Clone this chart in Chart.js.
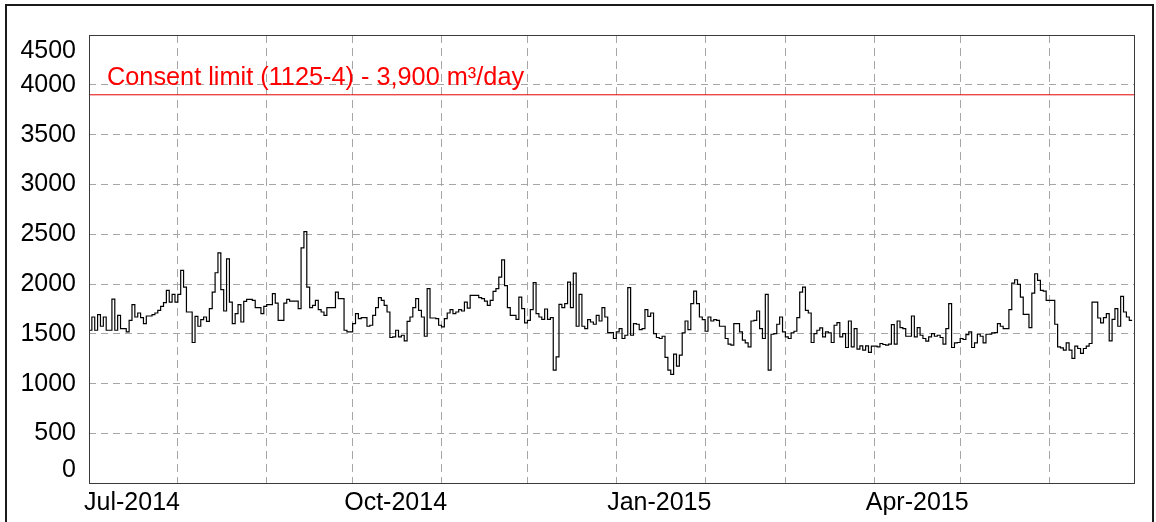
<!DOCTYPE html>
<html>
<head>
<meta charset="utf-8">
<script src="https://cdn.jsdelivr.net/npm/chart.js@4/dist/chart.umd.min.js"></script>
<style>
  html, body { margin: 0; padding: 0; background: #ffffff; overflow: hidden; width: 1156px; height: 522px; }
  #frame { position: absolute; left: 5px; top: 4px; width: 1145px; height: 600px; border: 2px solid #1a1a1a; z-index: 0; }
  #wrap { position: absolute; left: 0; top: 0; width: 1156px; height: 522px; z-index: 1; }
</style>
</head>
<body>
<div id="frame"></div>
<div id="wrap"><canvas id="c" width="1156" height="522"></canvas></div>
<script>
// ---------------- DATA ----------------
const seriesStart = '2014-07-01';
const axisEnd = '2015-07-01';
// daily flow (m3/day), one value per day from 1 Jul 2014
const flowValues = [
  1537,1670,1537,1694,1577,1670,1537,1537,1850,1537,
  1687,1554,1554,1520,1637,1794,1670,1710,1664,1604,
  1680,1680,1694,1710,1737,1777,1814,1937,1820,1897,
  1820,1897,2137,1970,1720,1720,1414,1677,1577,1644,
  1670,1627,1754,1920,2114,2314,1944,1730,2254,1820,
  1604,1704,1794,1620,1827,1847,1847,1837,1764,1764,
  1704,1777,1794,1794,1904,1810,1637,1637,1810,1847,
  1830,1830,1830,1754,2364,2527,1970,1764,1787,1837,
  1744,1720,1687,1764,1764,1764,1920,1854,1854,1537,
  1520,1520,1604,1704,1654,1664,1664,1577,1587,1687,
  1764,1864,1837,1787,1720,1464,1470,1537,1470,1487,
  1430,1627,1670,1764,1854,1737,1670,1477,1954,1660,
  1660,1654,1587,1570,1654,1710,1744,1704,1720,1744,
  1730,1820,1760,1887,1887,1887,1864,1854,1830,1787,
  1837,1927,1954,2070,2244,1984,1764,1687,1687,1647,
  1870,1754,1610,1637,1744,2014,1704,1670,1647,1750,
  1647,1664,1137,1270,1797,1764,1804,2020,1764,2110,
  1577,1897,1577,1554,1644,1620,1597,1687,1630,1764,
  1670,1514,1514,1454,1520,1554,1454,1487,1964,1487,
  1604,1597,1544,1554,1744,1677,1710,1504,1464,1454,
  1477,1264,1137,1094,1297,1177,1287,1510,1630,1544,
  1804,1930,1804,1670,1644,1527,1670,1630,1644,1637,
  1577,1577,1454,1397,1387,1604,1604,1520,1437,1410,
  1370,1630,1637,1730,1554,1454,1897,1137,1497,1504,
  1597,1670,1520,1470,1454,1510,1527,1664,1920,1970,
  1737,1710,1414,1504,1537,1560,1470,1520,1510,1414,
  1587,1614,1470,1504,1364,1630,1370,1554,1347,1380,
  1337,1380,1314,1377,1377,1370,1404,1394,1387,1397,
  1594,1397,1630,1564,1554,1477,1477,1680,1470,1564,
  1487,1454,1427,1470,1504,1477,1487,1464,1397,1554,
  1804,1364,1410,1414,1454,1444,1494,1520,1364,1410,
  1497,1477,1410,1497,1497,1510,1514,1604,1577,1554,
  1554,1744,2010,2044,1997,1870,1697,1697,1564,1910,
  2104,2037,1937,1930,1837,1837,1837,1597,1370,1360,
  1337,1410,1337,1254,1377,1354,1304,1354,1377,1404,
  1820,1820,1660,1610,1664,1704,1430,1647,1754,1577,
  1877,1720,1670,1637
];
const consentLimit = 3900;
const consentLabel = 'Consent limit (1125-4) - 3,900 m\u00B3/day';
const gridMonthDates = ['2014-08-01','2014-09-01','2014-10-01','2014-11-01','2014-12-01',
  '2015-01-01','2015-02-01','2015-03-01','2015-04-01','2015-05-01','2015-06-01'];
const xLabelDates = ['2014-07-16','2014-10-16','2015-01-16','2015-04-16'];
const xTickLabels = ['Jul-2014','Oct-2014','Jan-2015','Apr-2015'];
const yMin = 0, yMax = 4500, yStep = 500;

// ---------------- HELPERS ----------------
const DAY = 86400000;
const t0 = Date.parse(seriesStart + 'T00:00:00Z');
const dayOf = s => Math.round((Date.parse(s + 'T00:00:00Z') - t0) / DAY);
const xMax = dayOf(axisEnd);
const gridDays = gridMonthDates.map(dayOf);
const labelDays = xLabelDates.map(dayOf);

const flowPoints = flowValues.map((v, i) => ({x: i, y: v}));
flowPoints.push({x: flowValues.length, y: flowValues[flowValues.length - 1]});
const consentPoints = [{x: 0, y: consentLimit}, {x: xMax, y: consentLimit}];

const FONT = "'Liberation Sans', Arial, sans-serif";
const GRID = '#a6a6a6';

const framePlugin = {
  id: 'frame',
  afterDatasetsDraw(chart) {
    const {ctx, chartArea: a, scales} = chart;
    ctx.save();
    ctx.fillStyle = '#ff0000';
    ctx.font = '25.3px ' + FONT;
    ctx.textBaseline = 'alphabetic';
    ctx.textAlign = 'left';
    const y = scales.y.getPixelForValue(consentLimit);
    ctx.fillText(consentLabel, a.left + 18, y - 10);
    ctx.restore();
  },
  afterDraw(chart) {
    const {ctx, chartArea: a} = chart;
    ctx.save();
    ctx.strokeStyle = '#3a3a3a';
    ctx.lineWidth = 1;
    ctx.setLineDash([]);
    const l = Math.round(a.left) + 0.5, t = Math.round(a.top) + 0.5;
    const r = Math.round(a.right) - 0.5, b = Math.round(a.bottom) + 0.5;
    ctx.strokeRect(l, t, r - l, b - t);
    ctx.restore();
  }
};

new Chart(document.getElementById('c'), {
  type: 'line',
  data: {
    datasets: [
      {
        label: 'Daily take',
        data: flowPoints,
        borderColor: '#000000',
        borderWidth: 1.2,
        pointRadius: 0,
        stepped: true,
        tension: 0,
        fill: false
      },
      {
        label: 'Consent limit',
        data: consentPoints,
        borderColor: '#e60000',
        borderWidth: 1,
        pointRadius: 0,
        fill: false
      }
    ]
  },
  options: {
    responsive: false,
    devicePixelRatio: 1,
    animation: false,
    events: [],
    layout: { padding: { left: 0, top: 35, right: 21, bottom: 0 } },
    plugins: { legend: { display: false }, tooltip: { enabled: false } },
    scales: {
      x: {
        type: 'linear',
        min: 0,
        max: xMax,
        afterBuildTicks: (scale) => {
          const all = gridDays.concat(labelDays).sort((a, b) => a - b);
          scale.ticks = all.map(v => ({value: v}));
        },
        afterFit: (scale) => {
          scale.height = 38.6;
          scale.paddingLeft = 0; scale.paddingRight = 0;
          scale.paddingTop = 0; scale.paddingBottom = 0;
        },
        ticks: {
          autoSkip: false,
          maxRotation: 0,
          padding: 5,
          color: '#000000',
          font: { family: FONT, size: 25 },
          callback: (value) => {
            const k = labelDays.indexOf(value);
            return k >= 0 ? xTickLabels[k] : '';
          }
        },
        grid: {
          drawTicks: false,
          lineWidth: 1,
          color: (ctx) => (ctx.tick && labelDays.indexOf(ctx.tick.value) >= 0) ? 'rgba(0,0,0,0)' : GRID
        },
        border: { display: false, dash: [8, 5] }
      },
      y: {
        type: 'linear',
        min: yMin,
        max: yMax,
        afterFit: (scale) => {
          scale.width = 89;
          scale.paddingTop = 0; scale.paddingBottom = 0;
          scale.paddingLeft = 0; scale.paddingRight = 0;
        },
        ticks: {
          stepSize: yStep,
          autoSkip: false,
          padding: 13,
          color: '#000000',
          font: (ctx) => {
            const v = ctx.tick ? ctx.tick.value : null;
            let lh = 1.2;
            if (v === yMax) lh = 1.304;
            if (v === yMin) lh = 1.096;
            return { family: FONT, size: 25, lineHeight: lh };
          },
          callback: (value) => {
            if (value === yMax) return ['', String(value)];
            if (value === yMin) return [String(value), ''];
            return String(value);
          }
        },
        grid: {
          drawTicks: false,
          lineWidth: 1,
          color: (ctx) => (ctx.tick && (ctx.tick.value === yMin || ctx.tick.value === yMax)) ? 'rgba(0,0,0,0)' : GRID
        },
        border: { display: false, dash: [7, 5] }
      }
    }
  },
  plugins: [framePlugin]
});
</script>
</body>
</html>
